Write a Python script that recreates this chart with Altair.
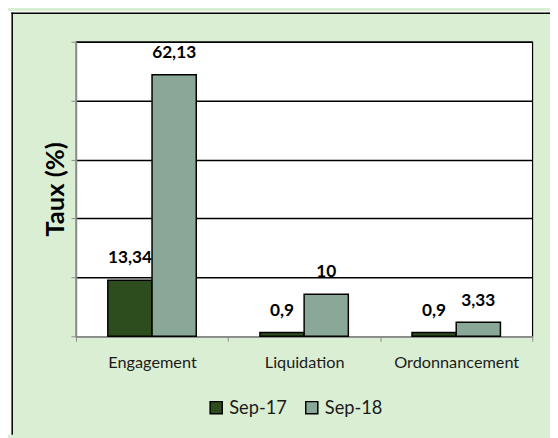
import altair as alt
import pandas as pd

categories = ["Engagement", "Liquidation", "Ordonnancement"]
series = ["Sep-17", "Sep-18"]
sep17 = [13.34, 0.9, 0.9]
sep18 = [62.13, 10, 3.33]
y_ticks = [0, 14, 28, 42, 56, 70]

rows = []
for c, a, b in zip(categories, sep17, sep18):
    rows.append({"cat": c, "serie": series[0], "val": a})
    rows.append({"cat": c, "serie": series[1], "val": b})
df = pd.DataFrame(rows)

W, H = 463, 299
PL, PT, PR, PB = 69, 31, 18, 100
FONT = "Lato"
GRAY = "#8a8a8a"

x_enc = alt.X(
    "cat:N", sort=categories,
    scale=alt.Scale(paddingInner=0, paddingOuter=0),
    axis=alt.Axis(title=None, tickBand="extent", labelAngle=0, labelPadding=14,
                  domainColor=GRAY, tickColor=GRAY, tickSize=5, domainWidth=1.5,
                  labelFont=FONT, labelFontSize=16.5, labelColor="#1a1a1a", grid=False),
)
xoff_enc = alt.XOffset("serie:N", sort=series,
                       scale=alt.Scale(paddingInner=0, paddingOuter=0.72))
y_enc = alt.Y(
    "val:Q",
    scale=alt.Scale(domain=[0, 70], nice=False, zero=True),
    axis=alt.Axis(values=y_ticks, labels=False, title="Taux (%)",
                  grid=True,
                  gridColor=alt.condition("datum.value == 0", alt.value(GRAY), alt.value("black")),
                  gridWidth=1.5,
                  domainColor=GRAY, domainWidth=1.5, tickColor=GRAY, tickSize=5,
                  titleFont=FONT, titleFontSize=26, titleFontWeight="bold",
                  titleColor="black", titlePadding=2),
)
color_enc = alt.Color(
    "serie:N", sort=series,
    scale=alt.Scale(domain=series, range=["#2E4D1E", "#89A897"]),
    legend=alt.Legend(title=None, orient="none", legendX=133, legendY=362,
                      direction="horizontal", symbolType="square", symbolSize=150,
                      symbolStrokeColor="black", symbolStrokeWidth=1.5,
                      labelFont=FONT, labelFontSize=18.5, labelColor="#1a1a1a",
                      columnPadding=16, labelOffset=4),
)

bars = alt.Chart(df).mark_bar(stroke="black", strokeWidth=1.5).encode(
    x=x_enc, xOffset=xoff_enc, y=y_enc, color=color_enc
)

labels = alt.Chart(df).transform_calculate(
    lbl="replace(toString(datum.val), '.', ',')"
).mark_text(dy=-22, font=FONT, fontWeight="bold", fontSize=17.5,
            color="black", baseline="middle").encode(
    x=alt.X("cat:N", sort=categories),
    xOffset=alt.XOffset("serie:N", sort=series),
    y="val:Q",
    text="lbl:N",
)

one = alt.Data(values=[{"k": 1}])
strip_left = alt.Chart(one).mark_rect(fill="white").encode(
    x=alt.value(-PL), x2=alt.value(-65.5), y=alt.value(-PT), y2=alt.value(H + PB)
)
strip_top = alt.Chart(one).mark_rect(fill="white").encode(
    x=alt.value(-PL), x2=alt.value(W + PR), y=alt.value(-PT), y2=alt.value(-29.5)
)
frame_left = alt.Chart(one).mark_rule(color="black", strokeWidth=1.5).encode(
    x=alt.value(-64.75), y=alt.value(-29.5), y2=alt.value(H + PB)
)
frame_top = alt.Chart(one).mark_rule(color="black", strokeWidth=1.5).encode(
    x=alt.value(-65.5), x2=alt.value(W + PR), y=alt.value(-28.75)
)

chart = alt.layer(bars, labels, strip_left, strip_top, frame_left, frame_top).properties(
    width=W, height=H,
    padding={"left": PL, "top": PT, "right": PR, "bottom": PB},
    autosize=alt.AutoSizeParams(type="none"),
    background="#DAEED4",
).configure_view(stroke="black", strokeWidth=1.2, fill="white")

chart.save("out.html", embed_options={"renderer": "svg", "actions": False})
